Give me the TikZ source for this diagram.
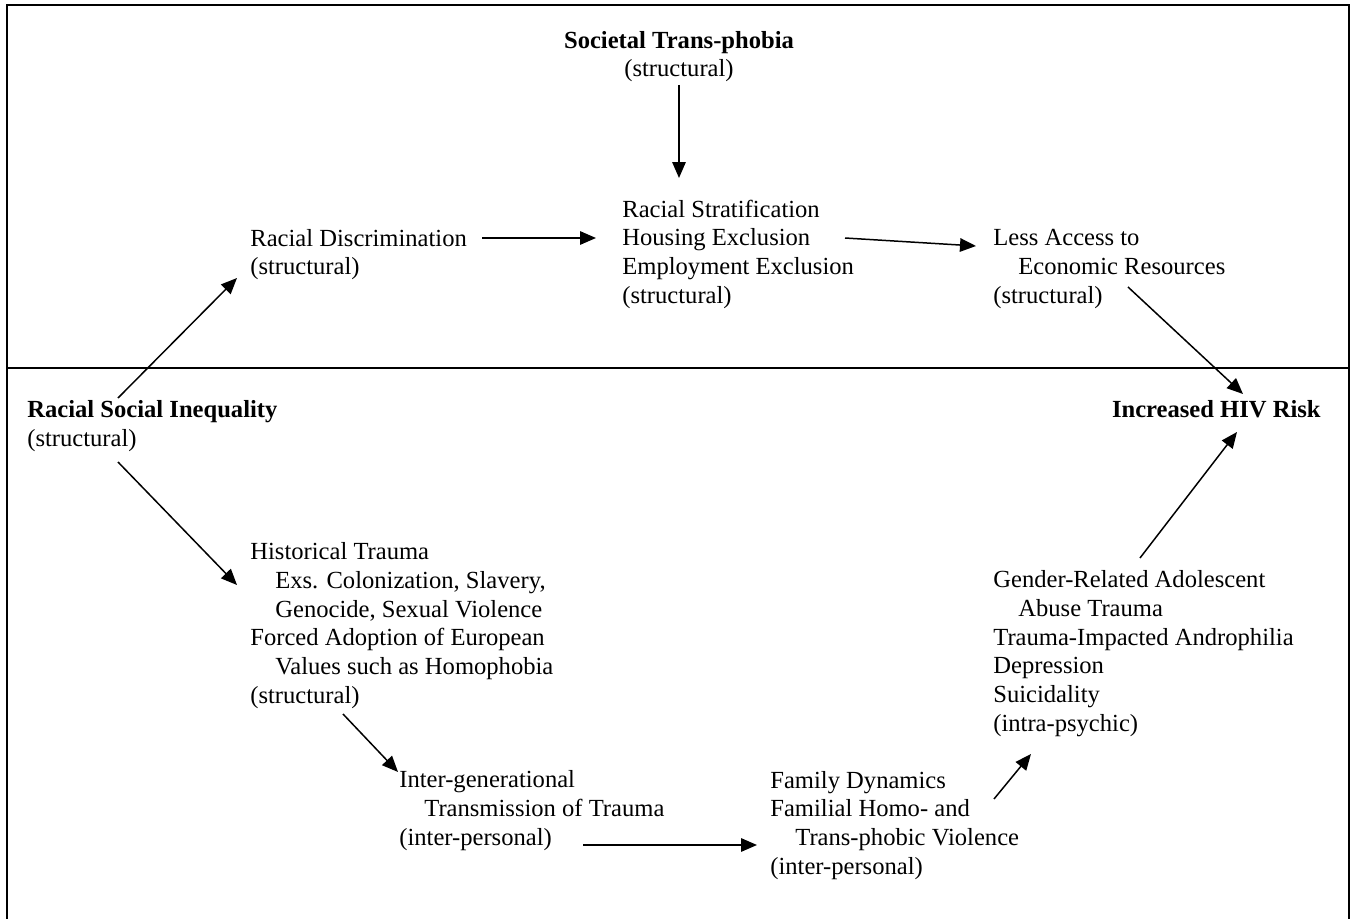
\documentclass[tikz,border=0pt]{standalone}
\usepackage{fontspec}
\setmainfont{Liberation Serif}
\usetikzlibrary{arrows.meta}
\tikzset{
  txt/.style={align=left, anchor=base west, inner sep=0pt, font=\fontsize{14}{16.3}\selectfont},
  link/.style={line width=0.85pt, -{Triangle[length=0.32cm,width=0.27cm]}},
  frame/.style={line width=1.1pt},
}
\newcommand{\ind}{\hspace*{0.5cm}}
\begin{document}
\begin{tikzpicture}[x=0.02cm,y=-0.02cm]
\useasboundingbox (0,0) rectangle (1357,919);
\draw[frame] (7,919) -- (7,5) -- (1349,5) -- (1349,919);
\draw[frame] (7,368) -- (1349,368);
\node[txt, anchor=base, align=center] (stp) at (679,77) {\textbf{Societal Trans-phobia}\\(structural)};
\node[txt] (rd) at (250,275) {Racial Discrimination\\(structural)};
\node[txt] (rs) at (622,303) {Racial Stratification\\Housing Exclusion\\Employment Exclusion\\(structural)};
\node[txt] (lae) at (993,303) {Less Access to\\\ind Economic Resources\\(structural)};
\node[txt] (rsi) at (27,446) {\textbf{Racial Social Inequality}\\(structural)};
\node[txt, anchor=base east] (hiv) at (1321,417) {\textbf{Increased HIV Risk}};
\node[txt] (ht) at (250,703) {Historical Trauma\\\ind Exs. Colonization, Slavery,\\\ind Genocide, Sexual Violence\\Forced Adoption of European\\\ind Values such as Homophobia\\(structural)};
\node[txt] (igt) at (399,845) {Inter-generational\\\ind Transmission of Trauma\\(inter-personal)};
\node[txt] (fd) at (770,874) {Family Dynamics\\Familial Homo- and\\\ind Trans-phobic Violence\\(inter-personal)};
\node[txt] (grt) at (993,731) {Gender-Related Adolescent\\\ind Abuse Trauma\\Trauma-Impacted Androphilia\\Depression\\Suicidality\\(intra-psychic)};
\draw[link] ([shift={(0,8)}]stp.base) -- ([shift={(57,-125)}]rs.base west);
\draw[link] ([shift={(232,-37)}]rd.base west) -- ([shift={(-26,-65)}]rs.base west);
\draw[link] ([shift={(223,-65)}]rs.base west) -- ([shift={(-17,-57)}]lae.base west);
\draw[link] ([shift={(135,-16)}]lae.base west) -- ([shift={(-78,-23)}]hiv.base east);
\draw[link] ([shift={(91,-48)}]rsi.base west) -- ([shift={(-13,3)}]rd.base west);
\draw[link] ([shift={(91,16)}]rsi.base west) -- ([shift={(-13,-118)}]ht.base west);
\draw[link] ([shift={(93,11)}]ht.base west) -- ([shift={(-1,-73)}]igt.base west);
\draw[link] ([shift={(184,0)}]igt.base west) -- ([shift={(-13,-29)}]fd.base west);
\draw[link] ([shift={(224,-75)}]fd.base west) -- ([shift={(38,23)}]grt.base west);
\draw[link] ([shift={(147,-173)}]grt.base west) -- ([shift={(-84,15)}]hiv.base east);
\end{tikzpicture}
\end{document}
